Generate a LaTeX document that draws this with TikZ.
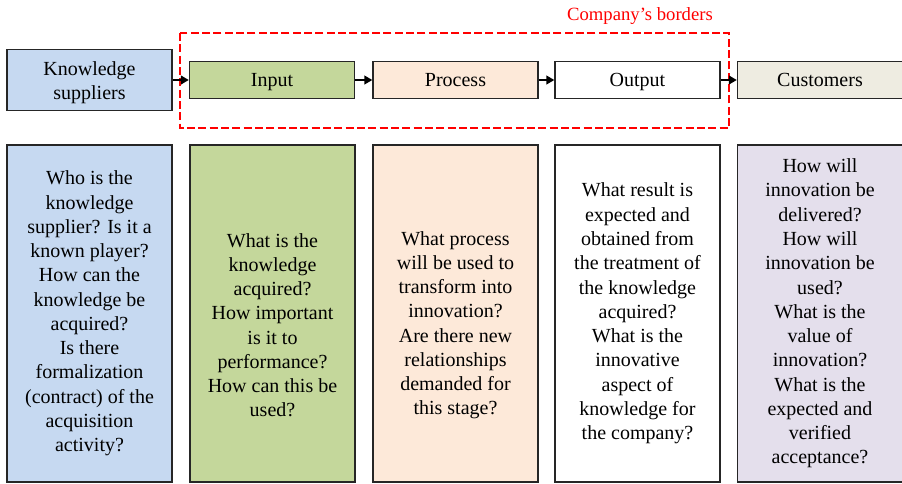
\documentclass[tikz,border=0pt]{standalone}
\usepackage{fontspec}
\setmainfont{Liberation Serif}
\usetikzlibrary{arrows.meta}
\definecolor{ksblue}{HTML}{C6D9F1}
\definecolor{inpgreen}{HTML}{C4D79B}
\definecolor{procpeach}{HTML}{FDE9D9}
\definecolor{custbeige}{HTML}{EEECE1}
\definecolor{custlilac}{HTML}{E4DFEC}
\definecolor{borderred}{HTML}{FF0000}
% a line whose descenders do not count towards the box depth
\newcommand{\nodepth}[1]{\raisebox{0pt}[\height][0pt]{#1}}
\begin{document}
\begin{tikzpicture}[x=0.75pt,y=-0.75pt,
  box/.style={draw=black!85, line width=1pt, inner sep=0pt, align=center,
    font=\fontsize{15}{18.2}\selectfont},
  stagebox/.style={box, minimum width=123.75pt, minimum height=27.75pt,
    text height=10pt, text depth=0pt},
  qbox/.style={box, minimum width=123.75pt, minimum height=252.75pt},
  flow/.style={line width=2.2pt, -{Triangle[length=6pt,width=6.5pt]}},
]
\useasboundingbox (0,0) rectangle (902,483);

% company's borders
\draw[borderred, line width=1.6pt, dash pattern=on 6pt off 2.5pt]
  (180,33) rectangle (729,128);
\node[text=borderred, font=\fontsize{14}{16}\selectfont] (cb) at (640,16) {Company’s borders};

% chain of stages
\node[box, fill=ksblue, minimum width=123.75pt, minimum height=45.75pt] (ks) at (89.5,80)
  {\rule{0pt}{11.5pt}Knowledge\\\nodepth{suppliers}};
\node[stagebox, fill=inpgreen] (in) at (272,80) {Input};
\node[stagebox, fill=procpeach] (pr) at (455.5,80) {Process};
\node[stagebox, fill=white] (out) at (637.5,80) {Output};
\node[stagebox, fill=custbeige] (cu) at (820,80) {Customers};

\draw[flow] (ks.east) -- (in.west);
\draw[flow] (in.east) -- (pr.west);
\draw[flow] (pr.east) -- (out.west);
\draw[flow] (out.east) -- (cu.west);

% questions for each stage
\node[qbox, fill=ksblue] (q1) at (89.5,313.5)
  {Who is the\\knowledge\\supplier? Is it a\\known player?\\How can the\\knowledge be\\acquired?\\Is there\\formalization\\(contract) of the\\acquisition\\activity?};
\node[qbox, fill=inpgreen] (q2) at (272.5,313.5)
  {\vphantom{W}\\What is the\\knowledge\\acquired?\\How important\\is it to\\performance?\\How can this be\\used?};
\node[qbox, fill=procpeach] (q3) at (455.5,313.5)
  {\vphantom{W}\\What process\\will be used to\\transform into\\innovation?\\Are there new\\relationships\\demanded for\\this stage?};
\node[qbox, fill=white] (q4) at (637.5,313.5)
  {What result is\\expected and\\obtained from\\the treatment of\\the knowledge\\acquired?\\What is the\\innovative\\aspect of\\knowledge for\\the company?};
\node[qbox, fill=custlilac] (q5) at (820,313.5)
  {How will\\innovation be\\delivered?\\How will\\innovation be\\used?\\What is the\\value of\\innovation?\\What is the\\expected and\\verified\\acceptance?};
\end{tikzpicture}
\end{document}
